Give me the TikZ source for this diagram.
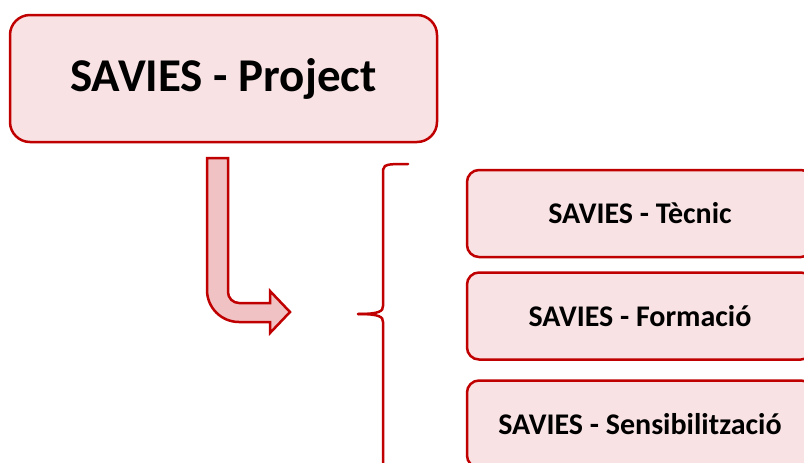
\documentclass[tikz,border=0pt]{standalone}
\usepackage{fontspec}
\setmainfont{Carlito}
\definecolor{darkred}{HTML}{C00000}
\definecolor{boxfill}{HTML}{F9E2E3}
\definecolor{arrowfill}{HTML}{F1C2C3}
\begin{document}
\begin{tikzpicture}[x=1pt, y=-1pt,
  mainbox/.style={draw=darkred, fill=boxfill, line width=2.5pt, rounded corners=20pt,
    minimum width=427pt, minimum height=127pt, inner sep=0pt,
    font=\fontsize{47}{50}\selectfont\bfseries},
  subbox/.style={draw=darkred, fill=boxfill, line width=2.5pt, rounded corners=12pt,
    minimum width=346pt, minimum height=87pt, inner sep=0pt,
    font=\fontsize{30}{33}\selectfont\bfseries},
  bentarrow/.style={draw=darkred, fill=arrowfill, line width=2.5pt, line join=miter},
  bracket/.style={draw=darkred, line width=2.5pt, line cap=round}]
  \useasboundingbox (0,0) rectangle (804,463);
  \clip (0,0) rectangle (804,463);
  \fill[white] (0,0) rectangle (804,463);

  % main project box
  \node[mainbox] (proj) at (223.5,78.5) {SAVIES - Project};

  % sub-project boxes
  \node[subbox] (tecnic) at (640,213.5) {SAVIES - Tècnic};
  \node[subbox] (formacio) at (640,316) {SAVIES - Formació};
  \node[subbox] (sensib) at (640,424) {SAVIES - Sensibilització};

  % bent arrow from the project box towards the brace
  \draw[bentarrow] (207,158) -- (228,158) -- (228,292)
    .. controls (228,298) and (233,303) .. (239,303)
    -- (270,303) -- (270,291) -- (290,312) -- (270,333) -- (270,322) -- (239,322)
    .. controls (221.3,322) and (207,307.7) .. (207,290) -- cycle;

  % left brace grouping the sub-projects
  \coordinate (btip) at (358,314);
  \draw[bracket] (408,164) .. controls (395,164) and (388,164) .. (385,166)
    .. controls (383,168) and (383,170) .. (383,174) -- (383,306)
    .. controls (383,311) and (380,314) .. (btip);
  \draw[bracket] (btip) .. controls (380,314) and (383,317) .. (383,322) -- (383,470);
\end{tikzpicture}
\end{document}
